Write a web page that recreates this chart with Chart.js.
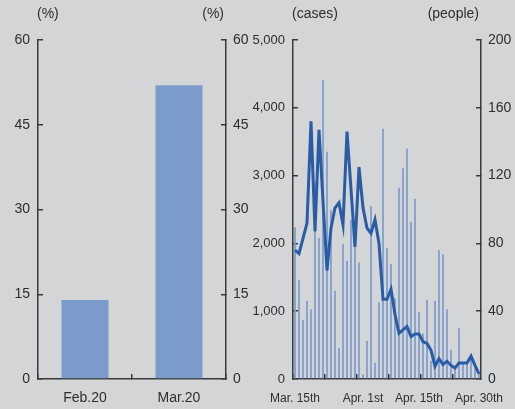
<!DOCTYPE html>
<html>
<head>
<meta charset="utf-8">
<script src="https://cdn.jsdelivr.net/npm/chart.js@4.4.1/dist/chart.umd.min.js"></script>
<style>
  html, body { margin: 0; padding: 0; background: #d4d5d7; }
  #wrap { position: relative; width: 515px; height: 409px; background: #d4d5d7; }
  .box { position: absolute; top: 0; height: 409px; }
  #leftBox { left: 0; width: 252px; }
  #rightBox { left: 240px; width: 275px; }
</style>
</head>
<body>
<div id="wrap">
  <div class="box" id="leftBox"><canvas id="shareChart"></canvas></div>
  <div class="box" id="rightBox"><canvas id="dailyChart"></canvas></div>
</div>
<script>
// left panel: monthly share (%)
const monthLabels = ["Feb.20", "Mar.20"];
const monthShare = [14, 52];

// right panel: daily values, Mar. 15th .. Apr. 30th
const dayLabels = [];
for (let d = 15; d <= 31; d++) dayLabels.push("Mar. " + d);
for (let d = 1; d <= 30; d++) dayLabels.push("Apr. " + d);
const dayTickText = { 0: "Mar. 15th", 17: "Apr. 1st", 31: "Apr. 15th", 46: "Apr. 30th" };

const dailyCases = [
  2240, 1460, 870, 1150, 1030, 2900, 2080, 4410, 3350, 2490,
  1300, 460, 1990, 1740, 2350, 1950, 1720, 70, 560, 2550,
  240, 1130, 3690, 1930, 1700, 1190, 2820, 3110, 3400, 2320,
  2660, 990, 670, 1170, 270, 1150, 1900, 1840, 1030, 430,
  200, 750, 240, 240, 330, 200, 100,
];
const dailyPeople = [
  76, 74, 83, 92, 152, 87, 147, 105, 64, 89,
  101, 104, 91, 146, 112, 78, 125, 101, 89, 86,
  94, 80, 47, 47, 53, 38, 27, 29, 31, 25,
  26.5, 26.5, 22, 21, 17, 7.5, 12, 8.5, 10.5, 8,
  6.5, 9.5, 9.5, 9.5, 13.5, 8, 3,
];

const textColor = "#2e2e2e";
const axisColor = "#3a3a3a";
const barColor = "#7b9bcb";
const lineColor = "#2a5ca6";
const fontFamily = "'Liberation Sans', Arial, sans-serif";

Chart.defaults.font.family = fontFamily;
Chart.defaults.font.size = 14;
Chart.defaults.color = textColor;

// unit captions above the y axes
const unitLabels = {
  id: "unitLabels",
  afterDraw(chart, args, opts) {
    const ctx = chart.ctx;
    const area = chart.chartArea;
    ctx.save();
    ctx.font = "14px " + fontFamily;
    ctx.fillStyle = textColor;
    ctx.textBaseline = "middle";
    ctx.textAlign = "left";
    ctx.fillText(opts.left, area.left - 1, area.top - 26);
    ctx.textAlign = "right";
    ctx.fillText(opts.right, area.right - 2, area.top - 26);
    ctx.restore();
  },
};

function yAxis(position, min, max, step, fmt, width, size) {
  return {
    position: position,
    min: min,
    max: max,
    border: { display: true, color: axisColor, width: 1.5 },
    grid: { drawOnChartArea: false, tickLength: -5, color: axisColor, lineWidth: 1.5 },
    ticks: {
      stepSize: step,
      padding: position === "left" ? 13 : 12,
      font: { size: size || 14 },
      callback: fmt,
    },
    afterFit(scale) {
      scale.width = width;
    },
  };
}

function xAxisFit(scale) {
  scale.height = 30;
  scale.paddingLeft = 0;
  scale.paddingRight = 0;
}

const plainNum = (v) => v;
const commaNum = (v) => v.toLocaleString("en-US");

new Chart(document.getElementById("shareChart"), {
  type: "bar",
  data: {
    labels: monthLabels,
    datasets: [
      {
        label: "share",
        data: monthShare,
        backgroundColor: barColor,
        barPercentage: 0.5,
        categoryPercentage: 1,
        yAxisID: "y",
      },
    ],
  },
  options: {
    animation: false,
    responsive: true,
    maintainAspectRatio: false,
    layout: { padding: { top: 40, left: 0, right: 0, bottom: 0 } },
    plugins: {
      legend: { display: false },
      tooltip: { enabled: false },
      unitLabels: { left: "(%)", right: "(%)" },
    },
    scales: {
      x: {
        border: { display: true, color: axisColor, width: 1.5 },
        grid: { drawOnChartArea: false, tickLength: -5, color: axisColor, lineWidth: 1.5 },
        ticks: { padding: 16 },
        afterFit: xAxisFit,
      },
      y: yAxis("left", 0, 60, 15, plainNum, 38),
      y1: yAxis("right", 0, 60, 15, plainNum, 26),
    },
  },
  plugins: [unitLabels],
});

new Chart(document.getElementById("dailyChart"), {
  data: {
    labels: dayLabels,
    datasets: [
      {
        type: "line",
        label: "people",
        data: dailyPeople,
        borderColor: lineColor,
        borderWidth: 3,
        pointRadius: 0,
        tension: 0,
        yAxisID: "y1",
        order: 0,
      },
      {
        type: "bar",
        label: "cases",
        data: dailyCases,
        backgroundColor: barColor,
        barPercentage: 0.42,
        categoryPercentage: 1,
        yAxisID: "y",
        order: 1,
      },
    ],
  },
  options: {
    animation: false,
    responsive: true,
    maintainAspectRatio: false,
    layout: { padding: { top: 40, left: 0, right: 0, bottom: 0 } },
    plugins: {
      legend: { display: false },
      tooltip: { enabled: false },
      unitLabels: { left: "(cases)", right: "(people)" },
    },
    scales: {
      x: {
        offset: true,
        border: { display: true, color: axisColor, width: 1.5 },
        grid: {
          offset: true,
          drawOnChartArea: false,
          tickLength: -5,
          lineWidth: 1.5,
          color: (ctx) => (ctx.index % 8 === 0 ? axisColor : "rgba(0,0,0,0)"),
        },
        ticks: {
          autoSkip: false,
          maxRotation: 0,
          padding: 17,
          font: { size: 12 },
          callback: (v, i) => dayTickText[i] || "",
        },
        afterFit: xAxisFit,
      },
      y: yAxis("left", 0, 5000, 1000, commaNum, 53, 13),
      y1: yAxis("right", 0, 200, 40, plainNum, 34),
    },
  },
  plugins: [unitLabels],
});
</script>
</body>
</html>
